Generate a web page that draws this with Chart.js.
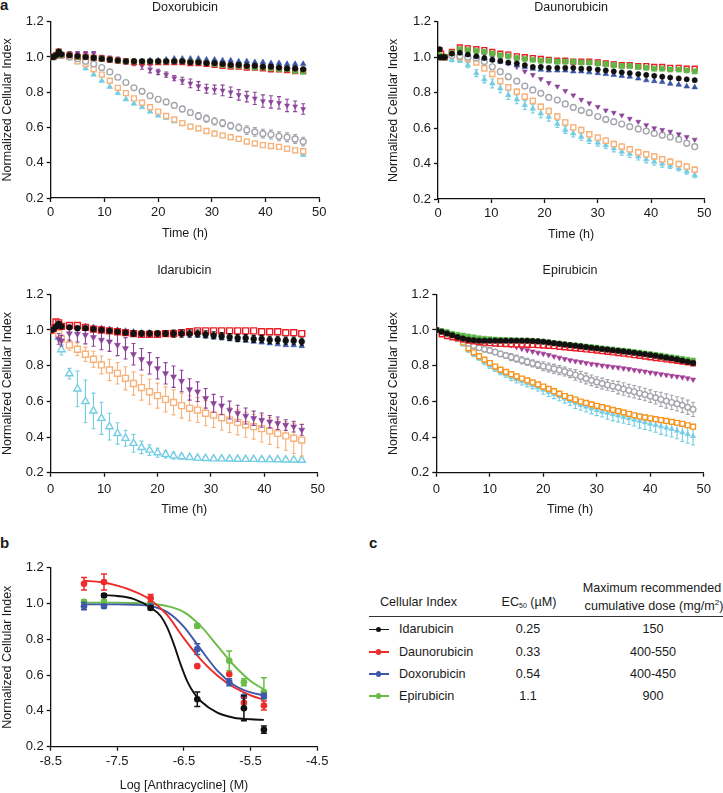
<!DOCTYPE html>
<html>
<head>
<meta charset="utf-8">
<script src="https://cdn.jsdelivr.net/npm/chart.js@4.4.0/dist/chart.umd.min.js"></script>
<style>
body { margin: 0; background: #fff; width: 723px; height: 793px; overflow: hidden; position: relative;
       font-family: "Liberation Sans", Arial, sans-serif; color: #1a1a1a; }
.pan { position: absolute; }
.let { position: absolute; font-weight: bold; font-size: 15px; line-height: 15px; }
.t { position: absolute; font-size: 12.6px; line-height: 16px; white-space: nowrap; }
.t sub { font-size: 7px; vertical-align: -2px; }
</style>
</head>
<body>
<div class="let" style="left:0;top:-3px">a</div>
<div class="let" style="left:0;top:535px">b</div>
<div class="let" style="left:369px;top:535px">c</div>

<div class="pan" style="left:0;top:0"><canvas id="cDox" width="330" height="244"></canvas></div>
<div class="pan" style="left:386px;top:0"><canvas id="cDau" width="330" height="245"></canvas></div>
<div class="pan" style="left:0;top:263px"><canvas id="cIda" width="330" height="257"></canvas></div>
<div class="pan" style="left:386px;top:263px"><canvas id="cEpi" width="330" height="257"></canvas></div>
<div class="pan" style="left:0;top:555px"><canvas id="cDose" width="331" height="238"></canvas></div>

<script>
// ---- ticks ----
const timeTicks = [0, 10, 20, 30, 40, 50];
const ciTicks = [0.2, 0.4, 0.6, 0.8, 1.0, 1.2];
const logTicks = [-8.5, -7.5, -6.5, -5.5, -4.5];

// ---- time points (h) ----
const tDox = [0,0.5,1,1.5,2,3.5,5,6.5,8,9.5,11,12.5,14,15.5,17,18.5,20,21.5,23,24.5,26,27.5,29,30.5,32,33.5,35,36.5,38,39.5,41,42.5,44,45.5,47];
const tIda = tDox;
const tDau = [0,0.3,0.6,1,1.3,2.6,4.1,5.6,7.2,8.7,10.2,11.7,13.2,14.8,16.3,17.8,19.3,20.8,22.4,23.9,25.4,26.9,28.4,30,31.5,33,34.5,36,37.6,39.1,40.6,42.1,43.6,45.2,46.7,48.2];
const tEpi = [0,1,2,3,4,5,6,7,8,9,10,11,12,13,14,15,16,17,18,19,20,21,22,23,24,25,26,27,28,29,30,31,32,33,34,35,36,37,38,39,40,41,42,43,44,45,46,47,48];

// ---- Doxorubicin ----
const doxBlack = [1.0,1.0,1.01,1.03,1.015,1.01,1.005,1.0,0.995,0.99,0.985,0.98,0.975,0.975,0.975,0.975,0.975,0.975,0.975,0.975,0.97,0.97,0.965,0.965,0.96,0.955,0.955,0.95,0.95,0.945,0.945,0.94,0.935,0.935,0.93];
const doxRed = [1.0,1.0,1.01,1.03,1.01,1.01,1.0,1.0,0.995,0.99,0.985,0.98,0.975,0.97,0.97,0.97,0.97,0.97,0.97,0.97,0.965,0.965,0.96,0.955,0.95,0.945,0.945,0.94,0.94,0.935,0.93,0.93,0.925,0.92,0.92];
const doxGreen = [1.0,1.0,1.01,1.03,1.01,1.01,1.0,1.0,0.995,0.99,0.985,0.98,0.975,0.975,0.975,0.975,0.975,0.975,0.975,0.975,0.97,0.97,0.965,0.96,0.955,0.95,0.95,0.945,0.94,0.94,0.935,0.93,0.93,0.92,0.915];
const doxBlue = [1.0,1.0,1.01,1.03,1.01,1.01,1.0,1.0,0.99,0.985,0.98,0.975,0.975,0.975,0.975,0.98,0.98,0.985,0.99,0.99,0.99,0.99,0.985,0.985,0.98,0.98,0.975,0.975,0.97,0.97,0.965,0.965,0.96,0.96,0.96];
const doxPurple = [1.0,1.0,1.01,1.02,1.01,1.02,1.02,1.02,1.02,1.0,0.99,0.985,0.975,0.97,0.95,0.93,0.915,0.9,0.88,0.865,0.85,0.835,0.82,0.815,0.81,0.8,0.785,0.775,0.765,0.75,0.745,0.74,0.725,0.72,0.705];
const doxPurpleErr = [0,0,0,0,0,0.01,0.01,0.01,0.01,0.01,0.015,0.015,0.015,0.02,0.02,0.02,0.015,0.015,0.015,0.02,0.025,0.025,0.025,0.025,0.03,0.03,0.03,0.03,0.035,0.035,0.035,0.035,0.035,0.03,0.03];
const doxGrey = [1.0,1.0,1.01,1.01,1.01,1.0,0.99,0.975,0.96,0.94,0.915,0.885,0.855,0.825,0.805,0.78,0.76,0.745,0.725,0.705,0.685,0.665,0.65,0.635,0.625,0.61,0.6,0.585,0.575,0.565,0.56,0.55,0.545,0.535,0.52];
const doxGreyErr = [0,0,0,0,0,0.005,0.005,0.005,0.01,0.01,0.01,0.01,0.01,0.01,0.01,0.01,0.01,0.01,0.015,0.015,0.015,0.02,0.02,0.02,0.02,0.02,0.02,0.025,0.025,0.025,0.025,0.025,0.025,0.025,0.025];
const doxOrange = [1.0,1.0,1.01,1.02,1.01,1.0,0.975,0.96,0.93,0.9,0.865,0.825,0.795,0.765,0.74,0.715,0.69,0.665,0.645,0.625,0.605,0.595,0.58,0.565,0.555,0.545,0.535,0.52,0.51,0.5,0.495,0.49,0.48,0.47,0.465];
const doxCyan = [1.0,1.0,1.01,1.02,1.01,0.995,0.97,0.935,0.9,0.865,0.83,0.795,0.76,0.735,0.715,0.69,0.668,0.655,0.635,0.62,0.605,0.59,0.575,0.565,0.55,0.54,0.53,0.52,0.505,0.5,0.49,0.485,0.475,0.465,0.445];

// ---- Daunorubicin ----
const dauBlack = [1.0,1.045,1.0,1.0,1.0,1.02,1.025,1.015,1.005,0.995,0.985,0.978,0.97,0.965,0.955,0.945,0.945,0.94,0.94,0.94,0.94,0.935,0.935,0.93,0.925,0.92,0.915,0.91,0.905,0.9,0.895,0.89,0.885,0.88,0.875,0.87];
const dauRed = [1.0,1.04,1.02,1.0,1.0,1.03,1.055,1.05,1.045,1.04,1.03,1.02,1.015,1.005,1.0,0.995,0.99,0.985,0.98,0.98,0.975,0.975,0.975,0.97,0.965,0.96,0.955,0.955,0.95,0.95,0.945,0.945,0.94,0.94,0.935,0.935];
const dauRedErr = [0,0,0,0,0,0.01,0.012,0.012,0.012,0.012,0.012,0.012,0.012,0.012,0.012,0.012,0.012,0.012,0.012,0.012,0.012,0.012,0.012,0.012,0.012,0.012,0.012,0.012,0.012,0.012,0.012,0.012,0.012,0.012,0.012,0.012];
const dauGreen = [1.0,1.01,1.0,1.0,1.0,1.025,1.045,1.04,1.035,1.03,1.02,1.01,1.005,0.995,0.99,0.985,0.98,0.98,0.975,0.975,0.975,0.97,0.97,0.965,0.96,0.955,0.95,0.95,0.945,0.94,0.935,0.935,0.93,0.93,0.925,0.92];
const dauBlue = [1.0,1.01,1.0,1.0,1.0,1.02,1.025,1.015,1.005,0.995,0.985,0.975,0.965,0.955,0.945,0.935,0.93,0.925,0.925,0.925,0.92,0.92,0.915,0.91,0.905,0.9,0.895,0.89,0.88,0.87,0.865,0.86,0.85,0.845,0.835,0.83];
const dauPurple = [1.0,1.0,1.0,1.0,1.0,1.02,1.04,1.035,1.03,1.015,1.0,0.985,0.965,0.945,0.92,0.9,0.877,0.855,0.835,0.81,0.785,0.76,0.74,0.72,0.70,0.687,0.672,0.653,0.636,0.617,0.6,0.59,0.58,0.566,0.55,0.535];
const dauGrey = [1.0,1.0,1.0,1.0,1.0,1.01,1.005,1.0,0.995,0.975,0.946,0.918,0.89,0.865,0.837,0.815,0.796,0.773,0.758,0.736,0.717,0.70,0.687,0.665,0.649,0.636,0.623,0.608,0.595,0.583,0.57,0.56,0.55,0.536,0.515,0.495];
const dauOrange = [1.0,1.0,1.0,1.0,1.0,1.02,1.0,0.99,0.97,0.937,0.905,0.865,0.83,0.805,0.777,0.753,0.72,0.696,0.665,0.632,0.604,0.589,0.565,0.546,0.529,0.51,0.495,0.48,0.463,0.452,0.44,0.424,0.41,0.397,0.383,0.365];
const dauOrangeErr = [0,0,0,0,0,0.005,0.01,0.01,0.01,0.015,0.015,0.015,0.015,0.015,0.015,0.015,0.015,0.015,0.015,0.015,0.015,0.015,0.015,0.015,0.015,0.015,0.015,0.015,0.015,0.015,0.015,0.015,0.015,0.015,0.015,0.015];
const dauCyan = [1.0,1.0,0.99,0.99,0.99,0.985,0.98,0.955,0.91,0.875,0.852,0.824,0.786,0.762,0.73,0.71,0.683,0.664,0.623,0.59,0.57,0.551,0.533,0.518,0.503,0.486,0.467,0.454,0.44,0.424,0.41,0.4,0.388,0.373,0.355,0.335];
const dauCyanErr = [0,0,0,0,0,0.01,0.01,0.015,0.02,0.02,0.025,0.025,0.025,0.025,0.025,0.025,0.025,0.025,0.02,0.02,0.02,0.02,0.02,0.02,0.02,0.02,0.02,0.02,0.02,0.02,0.02,0.02,0.015,0.015,0.015,0.015];

// ---- Idarubicin ----
const idaBlack = [1.0,1.005,1.02,1.035,1.02,1.015,1.01,1.01,1.005,1.0,0.995,0.99,0.985,0.98,0.98,0.98,0.98,0.98,0.98,0.98,0.98,0.98,0.975,0.97,0.965,0.96,0.955,0.955,0.95,0.95,0.945,0.945,0.94,0.94,0.935];
const idaBlackErr = [0,0,0,0,0,0.01,0.01,0.01,0.01,0.01,0.01,0.01,0.01,0.015,0.015,0.015,0.015,0.015,0.02,0.02,0.02,0.02,0.02,0.02,0.02,0.02,0.02,0.02,0.02,0.02,0.02,0.02,0.02,0.02,0.02];
const idaRed = [1.0,1.01,1.045,1.04,1.02,1.025,1.025,1.015,1.005,1.0,0.995,0.99,0.985,0.98,0.975,0.975,0.975,0.98,0.98,0.985,0.99,0.995,0.995,0.995,0.995,0.995,0.995,0.995,0.995,0.99,0.99,0.99,0.985,0.985,0.98];
const idaBlue = [1.0,1.005,1.02,1.035,1.02,1.02,1.02,1.02,1.015,1.01,1.005,1.0,0.995,0.99,0.985,0.985,0.98,0.98,0.98,0.98,0.975,0.97,0.965,0.96,0.955,0.95,0.945,0.94,0.935,0.93,0.925,0.92,0.915,0.915,0.91];
const idaPurple = [1.0,1.0,1.01,0.95,0.94,0.98,0.978,0.972,0.959,0.944,0.935,0.916,0.897,0.864,0.836,0.813,0.785,0.757,0.738,0.714,0.667,0.654,0.617,0.589,0.576,0.551,0.533,0.518,0.505,0.495,0.486,0.477,0.467,0.458,0.44];
const idaPurpleErr = [0,0,0,0.03,0.03,0.04,0.045,0.05,0.05,0.055,0.055,0.06,0.06,0.06,0.06,0.06,0.06,0.06,0.06,0.06,0.06,0.055,0.055,0.05,0.05,0.05,0.045,0.045,0.04,0.04,0.035,0.035,0.03,0.03,0.03];
const idaOrange = [1.0,1.0,1.01,0.98,0.95,0.916,0.892,0.864,0.836,0.804,0.776,0.757,0.729,0.70,0.677,0.654,0.632,0.611,0.594,0.576,0.561,0.551,0.533,0.523,0.508,0.495,0.482,0.469,0.458,0.447,0.434,0.42,0.406,0.393,0.383];
const idaOrangeErr = [0,0,0,0.02,0.02,0.03,0.035,0.04,0.045,0.05,0.06,0.06,0.065,0.065,0.07,0.07,0.07,0.07,0.07,0.07,0.07,0.07,0.07,0.07,0.07,0.07,0.07,0.07,0.07,0.075,0.075,0.08,0.08,0.085,0.09];
const idaCyan = [1.0,1.0,1.0,0.96,0.89,0.755,0.67,0.6,0.546,0.505,0.458,0.42,0.393,0.365,0.342,0.327,0.312,0.303,0.295,0.29,0.286,0.282,0.28,0.278,0.278,0.277,0.276,0.275,0.275,0.274,0.274,0.273,0.272,0.272,0.27];
const idaCyanErr = [0,0,0,0.02,0.03,0.03,0.1,0.12,0.1,0.09,0.075,0.06,0.045,0.05,0.035,0.03,0.025,0.02,0.02,0.015,0.01,0.01,0.01,0.01,0.01,0.01,0.01,0.01,0.01,0.01,0.01,0.01,0.01,0.01,0.01];

// ---- Epirubicin ----
const epiBlack = [1.0,0.99,0.98,0.97,0.96,0.952,0.945,0.942,0.94,0.94,0.94,0.94,0.94,0.94,0.94,0.94,0.94,0.94,0.938,0.936,0.934,0.93,0.926,0.922,0.918,0.915,0.912,0.908,0.904,0.9,0.897,0.893,0.89,0.886,0.883,0.88,0.876,0.872,0.868,0.864,0.86,0.855,0.85,0.845,0.84,0.835,0.828,0.822,0.815];
const epiGreen = [1.0,0.995,0.99,0.98,0.975,0.97,0.965,0.96,0.955,0.952,0.95,0.948,0.946,0.945,0.944,0.943,0.942,0.941,0.94,0.938,0.935,0.932,0.928,0.925,0.922,0.918,0.915,0.912,0.908,0.905,0.902,0.898,0.895,0.892,0.888,0.885,0.882,0.878,0.874,0.87,0.866,0.862,0.858,0.853,0.848,0.844,0.84,0.835,0.83];
const epiRed = [1.0,0.975,0.965,0.958,0.952,0.946,0.94,0.935,0.931,0.928,0.925,0.923,0.921,0.92,0.919,0.918,0.917,0.916,0.915,0.914,0.912,0.91,0.908,0.905,0.902,0.899,0.896,0.893,0.89,0.887,0.884,0.88,0.877,0.873,0.87,0.866,0.862,0.858,0.854,0.85,0.846,0.842,0.838,0.834,0.83,0.826,0.822,0.818,0.812];
const epiPurple = [1.0,0.99,0.98,0.972,0.965,0.96,0.955,0.952,0.95,0.948,0.945,0.94,0.935,0.925,0.915,0.905,0.895,0.887,0.88,0.873,0.867,0.86,0.852,0.845,0.837,0.831,0.825,0.82,0.815,0.81,0.806,0.801,0.797,0.793,0.79,0.785,0.781,0.776,0.772,0.767,0.762,0.757,0.752,0.748,0.743,0.739,0.735,0.729,0.722];
const epiGrey = [1.0,0.99,0.98,0.97,0.96,0.945,0.925,0.912,0.9,0.892,0.885,0.876,0.866,0.857,0.848,0.839,0.83,0.821,0.813,0.805,0.797,0.79,0.782,0.775,0.767,0.758,0.748,0.738,0.728,0.718,0.708,0.7,0.692,0.685,0.677,0.669,0.661,0.654,0.646,0.638,0.629,0.62,0.611,0.602,0.594,0.586,0.578,0.567,0.555];
const epiGreyErr = [0,0,0,0,0,0.01,0.01,0.01,0.01,0.015,0.015,0.015,0.015,0.015,0.02,0.02,0.02,0.02,0.02,0.02,0.025,0.025,0.025,0.025,0.025,0.025,0.03,0.03,0.03,0.03,0.03,0.03,0.03,0.03,0.035,0.035,0.035,0.035,0.035,0.035,0.035,0.035,0.04,0.04,0.04,0.04,0.04,0.04,0.04];
const epiOrange = [1.0,0.98,0.975,0.965,0.955,0.93,0.897,0.875,0.853,0.834,0.815,0.795,0.778,0.765,0.752,0.74,0.728,0.717,0.706,0.695,0.683,0.67,0.657,0.643,0.63,0.62,0.61,0.599,0.591,0.583,0.575,0.567,0.56,0.552,0.545,0.538,0.53,0.522,0.515,0.51,0.505,0.5,0.495,0.49,0.485,0.48,0.474,0.466,0.458];
const epiCyan = [1.0,0.98,0.97,0.96,0.945,0.92,0.885,0.862,0.84,0.82,0.8,0.782,0.765,0.75,0.735,0.723,0.712,0.701,0.69,0.678,0.665,0.652,0.64,0.628,0.615,0.602,0.59,0.58,0.57,0.56,0.55,0.542,0.535,0.527,0.52,0.512,0.505,0.497,0.49,0.482,0.475,0.467,0.46,0.452,0.445,0.435,0.425,0.415,0.405];
const epiCyanErr = [0,0,0,0,0,0.01,0.01,0.01,0.01,0.015,0.015,0.015,0.015,0.015,0.02,0.02,0.02,0.02,0.02,0.02,0.025,0.025,0.025,0.025,0.025,0.025,0.03,0.03,0.03,0.03,0.03,0.03,0.035,0.035,0.035,0.035,0.035,0.035,0.04,0.04,0.04,0.04,0.045,0.045,0.045,0.045,0.05,0.05,0.05];

// ---- dose response (b) ----
const idaLog = [-7.7, -7.0, -6.3, -5.6, -5.3];
const idaCI = [1.045, 0.975, 0.465, 0.415, 0.295];
const idaSD = [0.01, 0.01, 0.04, 0.07, 0.02];
const dauLog = [-8.0, -7.7, -7.0, -6.3, -5.82, -5.6, -5.3];
const dauCI = [1.11, 1.12, 1.03, 0.65, 0.605, 0.445, 0.43];
const dauSD = [0.035, 0.045, 0.02, 0, 0, 0.03, 0.025];
const doxLog = [-8.0, -7.7, -7.0, -6.3, -5.82, -5.6, -5.3];
const doxCI = [0.985, 0.985, 0.985, 0.745, 0.56, 0.48, 0.483];
const doxSD = [0.02, 0.01, 0.01, 0.03, 0.02, 0.01, 0.015];
const epiLog = [-8.0, -7.7, -7.0, -6.3, -5.82, -5.6, -5.3];
const epiCI = [1.01, 1.01, 1.0, 0.875, 0.68, 0.56, 0.505];
const epiSD = [0.01, 0.01, 0.01, 0.01, 0.055, 0.02, 0.08];

// fitted curves
const fitLog = [-8.0, -7.75, -7.5, -7.25, -7.0, -6.75, -6.5, -6.25, -6.0, -5.75, -5.5, -5.3];
const dauFit = [1.127, 1.12, 1.1, 1.068, 1.02, 0.935, 0.805, 0.688, 0.598, 0.532, 0.487, 0.462];
const doxFit = [0.995, 0.995, 0.995, 0.993, 0.985, 0.952, 0.87, 0.745, 0.625, 0.545, 0.503, 0.487];
const epiFit = [1.005, 1.005, 1.005, 1.003, 0.998, 0.985, 0.952, 0.875, 0.765, 0.655, 0.567, 0.52];
const idaFitLog = [-7.7, -7.5, -7.25, -7.0, -6.85, -6.75, -6.65, -6.55, -6.45, -6.35, -6.25, -6.0, -5.75, -5.5, -5.3];
const idaFit = [1.047, 1.042, 1.025, 0.978, 0.93, 0.865, 0.77, 0.66, 0.565, 0.5, 0.455, 0.39, 0.362, 0.353, 0.35];

// ---- table (c) ----
const tblNames = ['Idarubicin', 'Daunorubicin', 'Doxorubicin', 'Epirubicin'];
const tblEC50 = ['0.25', '0.33', '0.54', '1.1'];
const tblDose = ['150', '400-550', '400-450', '900'];

const C = {
   black: '#111111', red: '#ed1c24', blue: '#3953a4', green: '#5cb946',
   purple: '#8c4399', magenta: '#a33d97', grey: '#a4a6ab', orange: '#f7b27b',
   orangeDeep: '#f7941d', cyan: '#74cde2'
};
const doseColors = ['#111111', '#ee2a2a', '#3f58a8', '#69bd45'];

Chart.defaults.font.family = '"Liberation Sans", Arial, sans-serif';
Chart.defaults.color = '#1a1a1a';

// draws vertical error bars under the markers of a dataset
const errorBars = {
   id: 'errorBars',
   beforeDatasetDraw(chart, args) {
      const ds = chart.data.datasets[args.index];
      if (!ds.errors) return;
      const yS = chart.scales.y;
      const ctx = chart.ctx;
      const cap = ds.capSize || 2;
      ctx.save();
      ctx.strokeStyle = ds.pointBorderColor;
      ctx.lineWidth = ds.errWidth || 1.1;
      args.meta.data.forEach((el, i) => {
         const e = ds.errors[i];
         if (!e) return;
         const v = ds.data[i].y;
         const top = yS.getPixelForValue(v + e);
         const bot = yS.getPixelForValue(v - e);
         ctx.beginPath();
         ctx.moveTo(el.x, top); ctx.lineTo(el.x, bot);
         ctx.moveTo(el.x - cap, top); ctx.lineTo(el.x + cap, top);
         ctx.moveTo(el.x - cap, bot); ctx.lineTo(el.x + cap, bot);
         ctx.stroke();
      });
      ctx.restore();
   }
};

function pts(xs, ys) {
   return xs.map((x, i) => ({ x: x, y: ys[i] }));
}

function series(t, vals, color, shape, open, r, errs, rot) {
   return {
      data: pts(t, vals),
      errors: errs || null,
      pointStyle: shape,
      pointRadius: r,
      pointRotation: rot || 0,
      pointBackgroundColor: open ? '#ffffff' : color,
      pointBorderColor: color,
      pointBorderWidth: open ? 1.4 : 0.6,
      borderColor: color,
      backgroundColor: color
   };
}

function axisX(min, max, ticks, label, box, fmt) {
   return {
      type: 'linear', min: min, max: max,
      afterBuildTicks: s => { s.ticks = ticks.map(v => ({ value: v })); },
      afterFit: s => { s.height = box.xH; },
      ticks: { font: { size: 13 }, padding: box.xPad, maxRotation: 0, autoSkip: false, callback: fmt || (v => v) },
      grid: { drawOnChartArea: false, tickLength: 4, tickWidth: 1.3, tickColor: '#111' },
      border: { color: '#111', width: 1.3 },
      title: { display: true, text: label, font: { size: 12.5 }, padding: { top: 0, bottom: box.xTitlePad } }
   };
}

function axisY(box) {
   return {
      type: 'linear', min: 0.2, max: 1.2,
      afterBuildTicks: s => { s.ticks = ciTicks.map(v => ({ value: v })); },
      afterFit: s => { s.width = box.yW; },
      ticks: { font: { size: 13 }, padding: 3, callback: v => v.toFixed(1) },
      grid: { drawOnChartArea: false, tickLength: 4, tickWidth: 1.3, tickColor: '#111' },
      border: { color: '#111', width: 1.3 },
      title: { display: true, text: 'Normalized Cellular Index', font: { size: 12.5 }, padding: { top: 0, bottom: 0 } }
   };
}

function timeChart(id, title, box, sets) {
   new Chart(document.getElementById(id), {
      type: 'scatter',
      data: { datasets: sets },
      options: {
         responsive: false, animation: false, events: [],
         layout: { padding: { left: 0, right: box.padR, top: 0, bottom: 0 } },
         plugins: {
            legend: { display: false },
            tooltip: { enabled: false },
            title: {
               display: true, text: title, fullSize: false,
               font: { size: 12.5, weight: 'normal' },
               padding: { top: 0.5, bottom: box.titleGap }
            }
         },
         scales: {
            x: axisX(0, 50, timeTicks, 'Time (h)', box),
            y: axisY(box)
         }
      },
      plugins: [errorBars]
   });
}

const topBox = { yW: 50.7, padR: 10.7, xH: 46, xPad: 3, xTitlePad: 2.5, titleGap: 6.2 };
const topBoxR = { yW: 52, padR: 11.7, xH: 46, xPad: 3, xTitlePad: 2.5, titleGap: 6.2 };
const lowBox = { yW: 50.7, padR: 10.7, xH: 47.3, xPad: 5, xTitlePad: 2.5, titleGap: 15.8 };
const lowBoxR = { yW: 50.3, padR: 10.7, xH: 47.3, xPad: 5, xTitlePad: 2.5, titleGap: 15.8 };

// first dataset is drawn on top
timeChart('cDox', 'Doxorubicin', topBox, [
   series(tDox, doxBlack, C.black, 'circle', false, 2.8),
   series(tDox, doxGreen, C.green, 'rect', false, 3.4),
   series(tDox, doxRed, C.red, 'rect', true, 3.4),
   series(tDox, doxBlue, C.blue, 'triangle', false, 3.2),
   series(tDox, doxPurple, C.purple, 'triangle', false, 2.8, doxPurpleErr, 180),
   series(tDox, doxGrey, C.grey, 'circle', true, 2.9, doxGreyErr),
   series(tDox, doxOrange, C.orange, 'rect', true, 3.5),
   series(tDox, doxCyan, C.cyan, 'triangle', false, 3.3)
]);

timeChart('cDau', 'Daunorubicin', topBoxR, [
   series(tDau, dauBlack, C.black, 'circle', false, 2.6),
   series(tDau, dauGreen, C.green, 'rect', false, 3.6),
   series(tDau, dauRed, C.red, 'rect', true, 3.4, dauRedErr),
   series(tDau, dauBlue, C.blue, 'triangle', false, 3.2),
   series(tDau, dauPurple, C.purple, 'triangle', false, 2.8, null, 180),
   series(tDau, dauGrey, C.grey, 'circle', true, 2.9),
   series(tDau, dauOrange, C.orange, 'rect', true, 3.6, dauOrangeErr),
   series(tDau, dauCyan, C.cyan, 'triangle', false, 3.2, dauCyanErr)
]);

timeChart('cIda', 'Idarubicin', lowBox, [
   series(tIda, idaBlack, C.black, 'circle', false, 2.9, idaBlackErr),
   series(tIda, idaRed, C.red, 'rect', true, 4.2),
   series(tIda, idaBlue, C.blue, 'triangle', false, 3.2),
   series(tIda, idaPurple, C.purple, 'triangle', false, 3.4, idaPurpleErr, 180),
   series(tIda, idaOrange, C.orange, 'rect', true, 4.2, idaOrangeErr),
   series(tIda, idaCyan, C.cyan, 'triangle', true, 4.2, idaCyanErr)
]);

timeChart('cEpi', 'Epirubicin', lowBoxR, [
   series(tEpi, epiBlack, C.black, 'circle', false, 2.8),
   series(tEpi, epiGreen, C.green, 'rect', false, 3.2),
   series(tEpi, epiRed, C.red, 'rect', true, 3.2),
   series(tEpi, epiPurple, C.magenta, 'triangle', false, 3, null, 180),
   series(tEpi, epiGrey, C.grey, 'circle', true, 2.8, epiGreyErr),
   series(tEpi, epiOrange, C.orangeDeep, 'rect', true, 3.4),
   series(tEpi, epiCyan, C.cyan, 'triangle', false, 3, epiCyanErr)
]);

// ---- dose response chart ----
function dosePoints(xs, ys, sd, color) {
   return {
      data: pts(xs, ys), errors: sd, capSize: 3, errWidth: 1.5,
      pointStyle: 'circle', pointRadius: 3.3,
      pointBackgroundColor: color, pointBorderColor: color, pointBorderWidth: 0,
      borderColor: color, backgroundColor: color
   };
}
function doseCurve(xs, ys, color) {
   return {
      data: pts(xs, ys), showLine: true, pointRadius: 0, borderWidth: 1.9,
      cubicInterpolationMode: 'monotone', borderColor: color, pointBorderColor: color
   };
}

const doseBox = { xH: 46.3, xPad: 2.6, xTitlePad: 0 };
new Chart(document.getElementById('cDose'), {
   type: 'scatter',
   data: {
      datasets: [
         dosePoints(idaLog, idaCI, idaSD, doseColors[0]),
         dosePoints(dauLog, dauCI, dauSD, doseColors[1]),
         dosePoints(doxLog, doxCI, doxSD, doseColors[2]),
         dosePoints(epiLog, epiCI, epiSD, doseColors[3]),
         doseCurve(idaFitLog, idaFit, doseColors[0]),
         doseCurve(fitLog, dauFit, doseColors[1]),
         doseCurve(fitLog, doxFit, doseColors[2]),
         doseCurve(fitLog, epiFit, doseColors[3])
      ]
   },
   options: {
      responsive: false, animation: false, events: [],
      layout: { padding: { left: 0, right: 11.7, top: 12.7, bottom: 0 } },
      plugins: { legend: { display: false }, tooltip: { enabled: false } },
      scales: {
         x: axisX(-8.5, -4.5, logTicks, 'Log [Anthracycline] (M)', doseBox, v => v.toFixed(1)),
         y: axisY({ yW: 50.7 })
      }
   },
   plugins: [errorBars]
});

// ---- table ----
function addText(html, x, y, align) {
   const d = document.createElement('div');
   d.className = 't';
   d.innerHTML = html;
   d.style.top = (y - 8) + 'px';
   d.style.left = x + 'px';
   if (align === 'center') d.style.transform = 'translateX(-50%)';
   document.body.appendChild(d);
   return d;
}
addText('Cellular Index', 380, 602);
addText('EC<sub>50</sub> (&micro;M)', 529, 602, 'center');
addText('Maximum recommended', 652, 588, 'center');
addText('cumulative dose (mg/m<sup style="font-size:8px">2</sup>)', 654, 603, 'center');

const rule = document.createElement('div');
rule.style.cssText = 'position:absolute;left:369px;top:615.5px;width:354px;height:1.3px;background:#333';
document.body.appendChild(rule);

const rowY = [629.3, 652, 674, 696];
tblNames.forEach((name, i) => {
   const y = rowY[i];
   const line = document.createElement('div');
   line.style.cssText = `position:absolute;left:369px;top:${y - 0.8}px;width:20px;height:1.6px;background:${doseColors[i]}`;
   document.body.appendChild(line);
   const dot = document.createElement('div');
   dot.style.cssText = `position:absolute;left:${378.7 - 2.6}px;top:${y - 2.6}px;width:5.2px;height:5.2px;border-radius:50%;background:${doseColors[i]}`;
   document.body.appendChild(dot);
   addText(name, 399, y);
   addText(tblEC50[i], 528, y, 'center');
   addText(tblDose[i], 653, y, 'center');
});
</script>
</body>
</html>
